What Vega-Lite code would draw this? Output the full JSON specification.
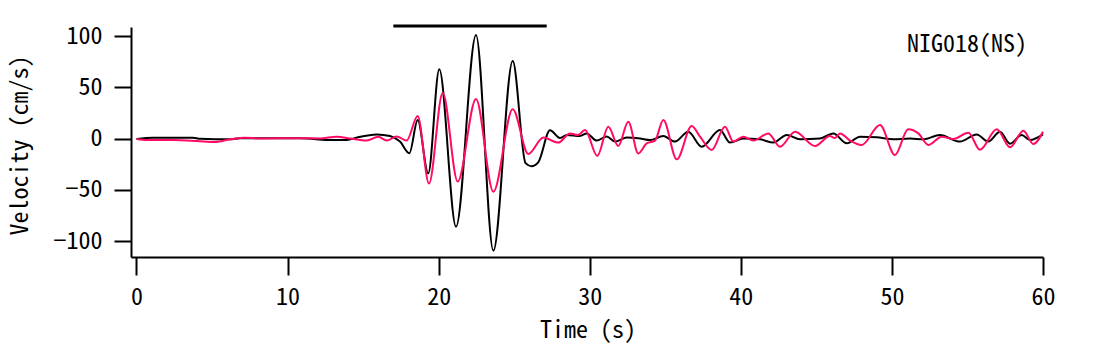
{
  "$schema": "https://vega.github.io/schema/vega-lite/v6.json",
  "width": 912,
  "height": 230,
  "autosize": {"type": "none"},
  "padding": {"left": 131, "top": 27, "right": 61, "bottom": 87},
  "background": "white",
  "config": {"view": {"stroke": null}, "font": "Noto Sans Mono CJK JP, Liberation Mono, monospace"},
  "layer": [
    {
      "data": {"values": [
        {"s":"b","t":0,"v":-0.5},{"s":"b","t":1.09,"v":0.8},{"s":"b","t":3.74,"v":0.8},{"s":"b","t":4.2,"v":-0.3},{"s":"b","t":6.19,"v":-0.8},{"s":"b","t":6.85,"v":0.3},{"s":"b","t":10.82,"v":0.2},{"s":"b","t":13.0,"v":-1.5},{"s":"b","t":13.93,"v":-1.5},{"s":"b","t":14.6,"v":1},{"s":"b","t":15.9,"v":4},{"s":"b","t":16.78,"v":2.5},{"s":"b","t":17.44,"v":-3},{"s":"b","t":18.06,"v":-14.4},{"s":"b","t":18.61,"v":18},{"s":"b","t":19.31,"v":-34},{"s":"b","t":20.04,"v":67.5},{"s":"b","t":21.15,"v":-86},{"s":"b","t":22.47,"v":101},{"s":"b","t":23.62,"v":-109.5},{"s":"b","t":24.9,"v":75.6},{"s":"b","t":25.75,"v":-24},{"s":"b","t":26.15,"v":-27},{"s":"b","t":26.6,"v":-23},{"s":"b","t":27.37,"v":8},{"s":"b","t":28.03,"v":0.5},{"s":"b","t":28.48,"v":3.4},{"s":"b","t":29.35,"v":2.4},{"s":"b","t":29.8,"v":5},{"s":"b","t":30.46,"v":-2},{"s":"b","t":31.12,"v":2},{"s":"b","t":31.67,"v":-3},{"s":"b","t":32.45,"v":1},{"s":"b","t":33.33,"v":0},{"s":"b","t":33.99,"v":-1.5},{"s":"b","t":34.87,"v":2.4},{"s":"b","t":35.64,"v":-3},{"s":"b","t":36.52,"v":6.6},{"s":"b","t":37.41,"v":-8},{"s":"b","t":38.62,"v":8.3},{"s":"b","t":39.28,"v":-4},{"s":"b","t":40.16,"v":0},{"s":"b","t":41.27,"v":-0.8},{"s":"b","t":42.15,"v":-4},{"s":"b","t":43.04,"v":3.4},{"s":"b","t":43.92,"v":-0.8},{"s":"b","t":45.24,"v":0},{"s":"b","t":46.12,"v":5},{"s":"b","t":47.01,"v":-4.7},{"s":"b","t":47.89,"v":1.8},{"s":"b","t":48.99,"v":1.2},{"s":"b","t":50.09,"v":-0.8},{"s":"b","t":51.2,"v":0},{"s":"b","t":52.08,"v":-0.8},{"s":"b","t":53.18,"v":3.4},{"s":"b","t":54.5,"v":-3},{"s":"b","t":55.61,"v":4},{"s":"b","t":56.38,"v":-3},{"s":"b","t":57.15,"v":6.6},{"s":"b","t":57.82,"v":-5},{"s":"b","t":58.59,"v":3.4},{"s":"b","t":59.14,"v":-1.5},{"s":"b","t":60.0,"v":4},
        {"s":"p","t":0,"v":-0.5},{"s":"p","t":0.7,"v":-1.5},{"s":"p","t":2.42,"v":-1.5},{"s":"p","t":4.0,"v":-2.4},{"s":"p","t":5.2,"v":-3.4},{"s":"p","t":6.19,"v":-0.8},{"s":"p","t":7.18,"v":0.8},{"s":"p","t":8.17,"v":0},{"s":"p","t":10.82,"v":0.3},{"s":"p","t":12.15,"v":0},{"s":"p","t":13.25,"v":1.8},{"s":"p","t":14.13,"v":0},{"s":"p","t":15.24,"v":-2},{"s":"p","t":16.0,"v":1.7},{"s":"p","t":16.56,"v":-2},{"s":"p","t":17.22,"v":2},{"s":"p","t":17.88,"v":-2},{"s":"p","t":18.61,"v":22},{"s":"p","t":19.36,"v":-44},{"s":"p","t":20.27,"v":44.7},{"s":"p","t":21.26,"v":-42},{"s":"p","t":22.47,"v":38.5},{"s":"p","t":23.62,"v":-52},{"s":"p","t":24.9,"v":28.5},{"s":"p","t":25.93,"v":-15},{"s":"p","t":26.93,"v":1},{"s":"p","t":27.92,"v":-4},{"s":"p","t":28.69,"v":5},{"s":"p","t":29.22,"v":3.4},{"s":"p","t":29.69,"v":8.3},{"s":"p","t":30.5,"v":-17},{"s":"p","t":31.23,"v":11.5},{"s":"p","t":31.89,"v":-7.3},{"s":"p","t":32.55,"v":16.4},{"s":"p","t":33.21,"v":-14.5},{"s":"p","t":33.77,"v":-4.7},{"s":"p","t":34.32,"v":-2},{"s":"p","t":34.87,"v":18},{"s":"p","t":35.76,"v":-20.3},{"s":"p","t":36.75,"v":12.2},{"s":"p","t":37.3,"v":1.8},{"s":"p","t":38.07,"v":-11.2},{"s":"p","t":38.95,"v":11.5},{"s":"p","t":39.5,"v":-3},{"s":"p","t":40.16,"v":1.8},{"s":"p","t":40.83,"v":-2},{"s":"p","t":41.82,"v":5},{"s":"p","t":42.59,"v":-8},{"s":"p","t":43.59,"v":6.6},{"s":"p","t":44.91,"v":-7.3},{"s":"p","t":45.9,"v":2.4},{"s":"p","t":46.23,"v":0.5},{"s":"p","t":46.56,"v":5},{"s":"p","t":47.23,"v":-2},{"s":"p","t":48.0,"v":-6.3},{"s":"p","t":49.21,"v":13.2},{"s":"p","t":50.2,"v":-16},{"s":"p","t":51.08,"v":9},{"s":"p","t":51.75,"v":5},{"s":"p","t":52.41,"v":-6.3},{"s":"p","t":53.3,"v":1.8},{"s":"p","t":54.06,"v":-0.5},{"s":"p","t":55.06,"v":5.7},{"s":"p","t":55.83,"v":-11},{"s":"p","t":56.94,"v":9},{"s":"p","t":57.82,"v":-8.6},{"s":"p","t":58.7,"v":7.6},{"s":"p","t":59.36,"v":-5.4},{"s":"p","t":60.0,"v":6.6}
      ]},
      "mark": {"type": "line", "interpolate": "monotone", "strokeWidth": 2},
      "encoding": {
        "x": {"field": "t", "type": "quantitative",
          "scale": {"domain": [-0.364, 60], "nice": false, "zero": false},
          "axis": {"values": [0,10,20,30,40,50,60], "title": "Time (s)", "grid": false,
            "tickSize": 18, "tickWidth": 2, "tickColor": "black", "domainWidth": 2, "domainColor": "black",
            "labelColor": "black", "labelFontSize": 24, "labelPadding": 10, "labelFlush": false, "labelOverlap": false,
            "titleFontSize": 24, "titleFontWeight": "normal", "titleColor": "black",
            "titleX": 456.5, "titleY": 73, "titleBaseline": "middle", "titleAlign": "center"}},
        "y": {"field": "v", "type": "quantitative",
          "scale": {"domain": [-115.6, 108.8], "nice": false, "zero": false},
          "axis": {"values": [-100,-50,0,50,100], "title": "Velocity (cm/s)", "grid": false,
            "tickSize": 17, "tickWidth": 2, "tickColor": "black", "domainWidth": 2, "domainColor": "black",
            "labelColor": "black", "labelFontSize": 24, "labelPadding": 12, "labelFlush": false, "labelOverlap": false,
            "titleFontSize": 24, "titleFontWeight": "normal", "titleColor": "black",
            "titleX": -111, "titleY": 118, "titleBaseline": "middle", "titleAlign": "center"}},
        "color": {"field": "s", "type": "nominal", "scale": {"domain": ["b","p"], "range": ["#000000","#ff0a64"]}, "legend": null}
      }
    },
    {
      "data": {"values": [{"t1": 17.0, "t2": 27.15, "v": 109.8}]},
      "mark": {"type": "rule", "strokeWidth": 3, "color": "black"},
      "encoding": {
        "x": {"field": "t1", "type": "quantitative"},
        "x2": {"field": "t2"},
        "y": {"field": "v", "type": "quantitative"}
      }
    },
    {
      "data": {"values": [{"t": 54.97, "v": 91.2, "label": "NIG018(NS)"}]},
      "mark": {"type": "text", "fontSize": 24, "align": "center", "baseline": "middle", "color": "black"},
      "encoding": {
        "x": {"field": "t", "type": "quantitative"},
        "y": {"field": "v", "type": "quantitative"},
        "text": {"field": "label"}
      }
    }
  ]
}
